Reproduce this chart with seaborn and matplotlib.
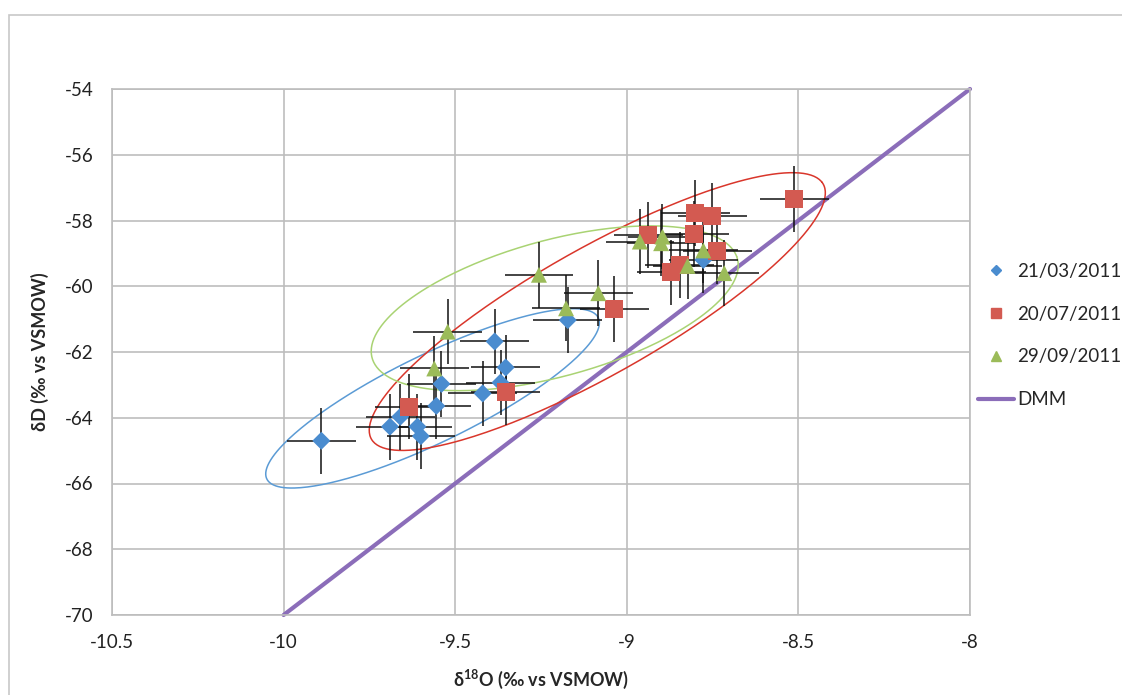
import numpy as np
import pandas as pd
import matplotlib
matplotlib.use("Agg")
import matplotlib.pyplot as plt
import seaborn as sns
from matplotlib.lines import Line2D
from matplotlib.patches import Rectangle

# delta 18O / delta D values
mar_x = [-9.89, -9.69, -9.66, -9.61, -9.60, -9.555, -9.54, -9.42, -9.385, -9.353, -9.368, -9.172, -8.777]
mar_y = [-64.7, -64.27, -63.97, -64.27, -64.56, -63.64, -62.97, -63.26, -61.68, -62.47, -62.93, -61.03, -59.2]
jul_x = [-9.635, -9.353, -9.036, -8.870, -8.846, -8.937, -8.800, -8.751, -8.803, -8.736, -8.512]
jul_y = [-63.66, -63.21, -60.70, -59.58, -59.35, -58.44, -57.78, -57.86, -58.41, -58.94, -57.35]
sep_x = [-9.522, -9.561, -9.256, -9.177, -9.083, -8.962, -8.896, -8.900, -8.823, -8.777, -8.716]
sep_y = [-61.38, -62.50, -59.65, -60.67, -60.21, -58.64, -58.49, -58.69, -59.38, -58.91, -59.60]
err_x = 0.1
err_y = 1.0

dates = ["21/03/2011", "20/07/2011", "29/09/2011"]
colors = ["#4A8CCF", "#D35A51", "#9BBB59"]
markers = ["D", "s", "^"]
msizes = [9.2, 13, 11.5]

# DMM line: dD = 8 * d18O + 10
dmm_x = [-10, -8]
dmm_slope = 8
dmm_icpt = 10

# grouping ellipses: centre, major and minor semi-axis vectors (data units)
ell_center = [(-9.566, -63.41), (-9.086, -60.77), (-9.21, -60.67)]
ell_major = [(0.481, 2.487), (0.655, 3.93), (0.53, 1.58)]
ell_minor = [(0.0703, -1.121), (0.112, -1.55), (0.0709, -1.946)]
ell_colors = ["#5B9BD5", "#D9362B", "#A9D373"]

xticks = [-10.5, -10, -9.5, -9, -8.5, -8]
xticklabels = ["-10.5", "-10", "-9.5", "-9", "-8.5", "-8"]
yticks = list(range(-70, -53, 2))

df = pd.concat([
    pd.DataFrame({"d18O": mar_x, "dD": mar_y, "date": dates[0]}),
    pd.DataFrame({"d18O": jul_x, "dD": jul_y, "date": dates[1]}),
    pd.DataFrame({"d18O": sep_x, "dD": sep_y, "date": dates[2]}),
], ignore_index=True)

sns.set_style("white")
plt.rcParams["font.family"] = ["Lato", "Open Sans", "DejaVu Sans"]
plt.rcParams["axes.unicode_minus"] = False
plt.rcParams["mathtext.fontset"] = "custom"
plt.rcParams["mathtext.rm"] = "Lato"
plt.rcParams["mathtext.bf"] = "Lato:bold"

fig = plt.figure(figsize=(11.22, 6.95), dpi=100)
ax = fig.add_axes([112 / 1122, 1 - 615 / 695, (970 - 112) / 1122, (615 - 89) / 695])

grid_c = "#BDBDBD"
ax.set_xlim(-10.5, -8)
ax.set_ylim(-70, -54)
ax.set_xticks(xticks)
ax.set_xticklabels(xticklabels)
ax.set_yticks(yticks)
ax.set_yticklabels([str(v) for v in yticks])
ax.grid(True, color=grid_c, lw=1.2)
ax.set_axisbelow(True)
for s in ax.spines.values():
    s.set_color(grid_c)
    s.set_linewidth(1.2)
ax.tick_params(axis="both", length=0, labelsize=13.5, colors="#222222")
ax.tick_params(axis="y", pad=13)
ax.tick_params(axis="x", pad=14)

# DMM line
dmm_y = [dmm_slope * v + dmm_icpt for v in dmm_x]
ax.plot(dmm_x, dmm_y, color="#8B6DB9", lw=3, zorder=2, clip_on=False)

# ellipses
t = np.linspace(0, 2 * np.pi, 300)
for c, a, b, col in zip(ell_center, ell_major, ell_minor, ell_colors):
    ex = c[0] + a[0] * np.cos(t) + b[0] * np.sin(t)
    ey = c[1] + a[1] * np.cos(t) + b[1] * np.sin(t)
    ax.plot(ex, ey, color=col, lw=1.1, zorder=3)

# error bars
ax.errorbar(df["d18O"], df["dD"], xerr=err_x, yerr=err_y, fmt="none",
            ecolor="#111111", elinewidth=1.1, capsize=0, zorder=4)

# points, one series at a time so marker sizes can differ
for d, col, m, ms in zip(dates, colors, markers, msizes):
    sns.scatterplot(data=df[df["date"] == d], x="d18O", y="dD", color=col,
                    marker=m, s=ms ** 2, edgecolor="none", linewidth=0,
                    ax=ax, zorder=5, legend=False)

ax.set_xlabel(r"δ$^{\mathbf{18}}$O (‰ vs VSMOW)", fontsize=13, fontweight="bold", labelpad=12)
ax.set_ylabel("δD (‰ vs VSMOW)", fontsize=13, fontweight="bold", labelpad=12)

handles = [Line2D([], [], ls="none", marker=m, color=c, markersize=ms * 0.6)
           for c, m, ms in zip(colors, markers, msizes)]
handles.append(Line2D([], [], color="#8B6DB9", lw=3))
fig.legend(handles, dates + ["DMM"], loc="upper left", bbox_to_anchor=(0.872, 0.622),
           frameon=False, fontsize=13.5, labelspacing=1.38, handlelength=1.9,
           handletextpad=0.15, borderpad=0, borderaxespad=0)

# outer chart frame
fig.patches.append(Rectangle((9 / 1122, -0.1), 1.2, 1 - 15 / 695 + 0.1,
                             transform=fig.transFigure, fill=False,
                             edgecolor="#C8C8C8", lw=1.2))

fig.savefig("out.png", dpi=100)
